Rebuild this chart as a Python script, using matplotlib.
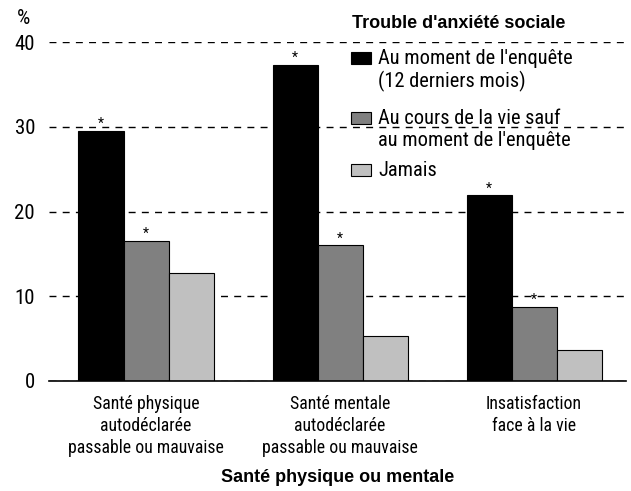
import matplotlib
matplotlib.use("Agg")
import matplotlib.pyplot as plt
from matplotlib.patches import Rectangle
import numpy as np

NARROW = ["Roboto Condensed", "Liberation Sans", "DejaVu Sans"]
BOLD = ["Liberation Sans", "DejaVu Sans"]
plt.rcParams['font.family'] = NARROW

categories = ["Santé physique\nautodéclarée\npassable ou mauvaise",
              "Santé mentale\nautodéclarée\npassable ou mauvaise",
              "Insatisfaction\nface à la vie"]
series_names = ["Au moment de l'enquête\n(12 derniers mois)",
                "Au cours de la vie sauf\nau moment de l'enquête",
                "Jamais"]
legend_title = "Trouble d'anxiété sociale"
x_title = "Santé physique ou mentale"
y_unit = "%"
current = [29.5, 37.3, 21.9]
lifetime = [16.5, 16.0, 8.7]
never = [12.7, 5.3, 3.7]
stars_current = [True, True, True]
stars_lifetime = [True, True, True]
stars_never = [False, False, False]
yticks = [0, 10, 20, 30, 40]

W, H = 631, 491
fig = plt.figure(figsize=(W / 100, H / 100), dpi=100)
ax = fig.add_axes([49 / W, 1 - 381 / H, (626 - 49) / W, (381 - 42) / H])

x = np.arange(len(categories))
w = 0.232
colors = ["#000000", "#808080", "#c0c0c0"]
data = [current, lifetime, never]
stars = [stars_current, stars_lifetime, stars_never]
for i, (vals, c, st) in enumerate(zip(data, colors, stars)):
    pos = x + (i - 1) * w
    ax.bar(pos, vals, width=w, color=c, edgecolor="black", linewidth=0.8,
           zorder=3)
    for p, v, s in zip(pos, vals, st):
        if s:
            ax.annotate("*", (p, v), xytext=(0, 5), textcoords="offset points",
                        ha="center", va="center", fontsize=10, zorder=4,
                        annotation_clip=False)

ax.set_xlim(-0.5, 2.474)
ax.set_ylim(0, 40)
ax.set_yticks(yticks)
ax.set_yticklabels([str(t) for t in yticks], fontsize=15)
ax.tick_params(axis="y", length=0, pad=10)
ax.yaxis.grid(True, linestyle=(0, (5, 4.5)), color="black", linewidth=1.0, zorder=1)
ax.set_axisbelow(True)
ax.set_xticks(x)
ax.set_xticklabels(categories, fontsize=12.8, linespacing=1.3)
ax.tick_params(axis="x", length=0, pad=10)
for s in ["left", "right", "top"]:
    ax.spines[s].set_visible(False)
ax.spines["bottom"].set_linewidth(1.2)
ax.spines["bottom"].set_zorder(5)

def fy(py):
    return 1 - py / H

fig.text(17 / W, fy(18), y_unit, fontsize=15, ha="left", va="center")
fig.text(338 / W, fy(477), x_title, fontsize=13, fontweight="bold",
         family=BOLD, ha="center", va="center")

# legend
fig.text(352 / W, fy(23), legend_title, fontsize=13, fontweight="bold",
         family=BOLD, ha="left", va="center")
text_y = [58, 118, 170]
for name, c, ty in zip(series_names, colors, text_y):
    fig.patches.append(Rectangle((351 / W, fy(ty + 6)), 20 / W, 12 / H,
                                 transform=fig.transFigure, facecolor=c,
                                 edgecolor="black", linewidth=0.8))
    lines = name.split("\n")
    for k, ln in enumerate(lines):
        fig.text(378 / W, fy(ty + k * 23), ln, fontsize=14.7, ha="left",
                 va="center")

fig.savefig("out.png", dpi=100)
